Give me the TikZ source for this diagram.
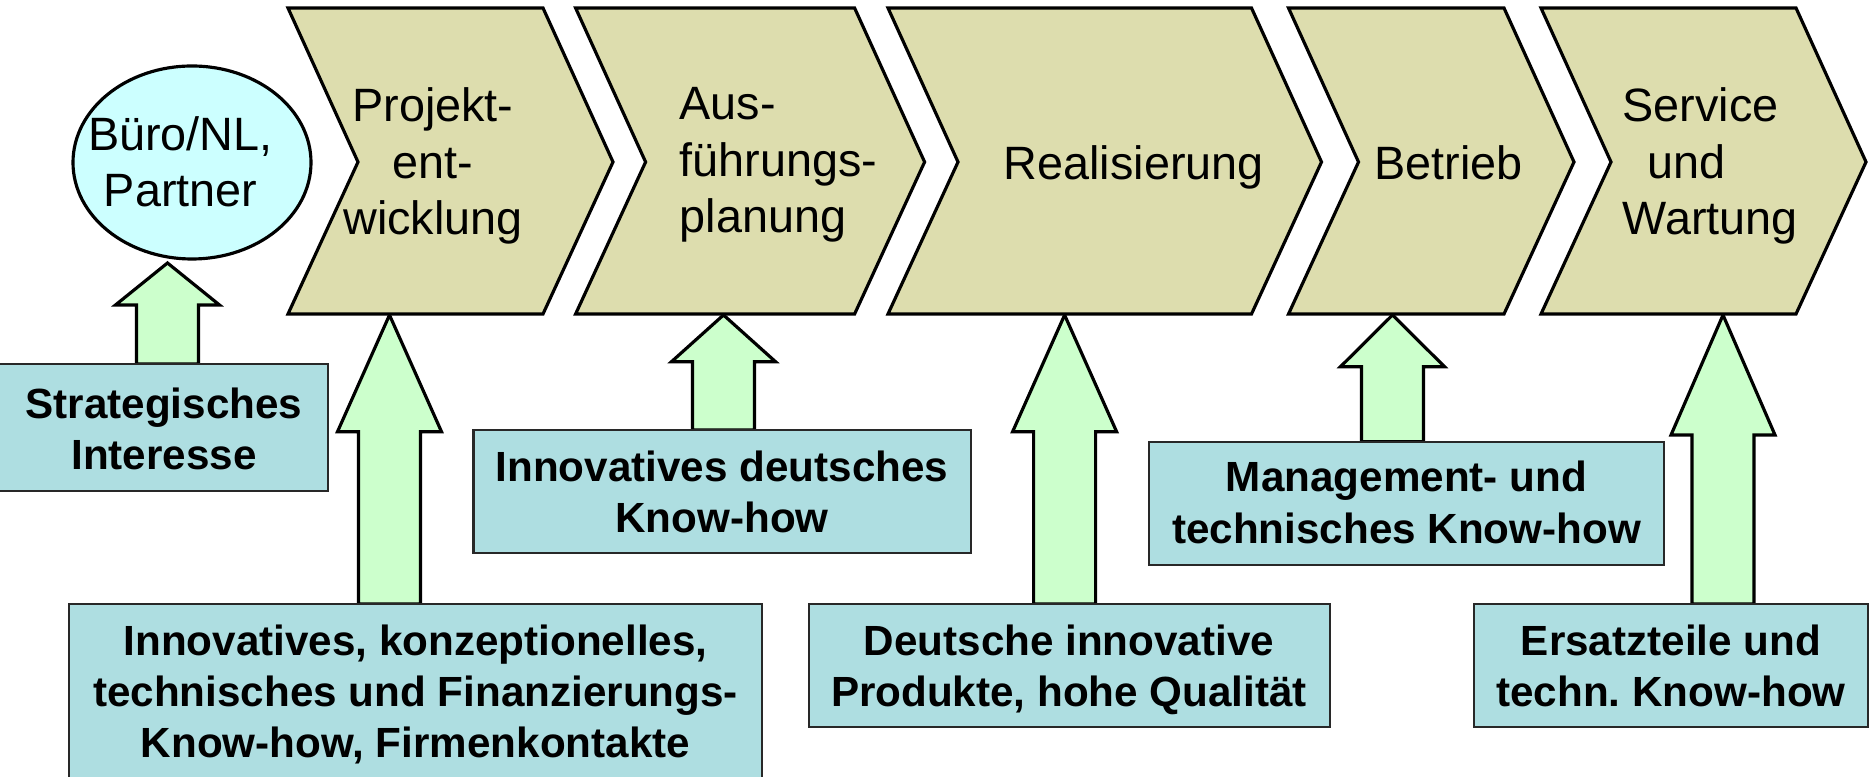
\documentclass[tikz,border=0pt]{standalone}
\usepackage{fontspec}
\setmainfont{Liberation Sans}
\frenchspacing
\definecolor{chevfill}{RGB}{221,221,174}
\definecolor{ovalfill}{RGB}{204,255,255}
\definecolor{boxfill}{RGB}{174,222,225}
\definecolor{arrowfill}{RGB}{204,255,204}
\definecolor{boxline}{RGB}{40,40,40}
% phase chevron: left x, right x of the flat top/bottom edges
\newcommand\phaseshape[2]{%
  \draw[phase] (#1,8) -- (#2,8) -- ({#2+70},162) -- (#2,314) -- (#1,314) -- ({#1+70},162) -- cycle;}
% block arrow pointing up: x, tip y, head base y, bottom y
\newcommand\uparrowshape[4]{%
  \draw[uparr] (#1,#2) -- ({#1+52},#3) -- ({#1+31},#3) -- ({#1+31},#4) -- ({#1-31},#4) -- ({#1-31},#3) -- ({#1-52},#3) -- cycle;}
\begin{document}
\begin{tikzpicture}[x=0.01cm,y=-0.01cm,
  phase/.style={draw=black,fill=chevfill,line width=0.9pt,line join=miter},
  uparr/.style={draw=black,fill=arrowfill,line width=0.9pt,line join=miter},
  infobox/.style={draw=boxline,fill=boxfill,line width=0.6pt},
  oval/.style={draw=black,fill=ovalfill,line width=0.9pt},
  phaselabel/.style={font=\fontsize{13.3}{16.1}\selectfont,inner sep=0pt},
  infolabel/.style={font=\bfseries\fontsize{12}{14.6}\selectfont,align=center,inner sep=0pt,anchor=base}]
\useasboundingbox (0,0) rectangle (1873,777);

% arrows (drawn first, boxes and phases cover their ends)
\uparrowshape{167.5}{263}{305}{364}
\uparrowshape{389.5}{315}{431.7}{604}
\uparrowshape{723.5}{315}{361.7}{430}
\uparrowshape{1064.6}{315}{431.7}{604}
\uparrowshape{1392.5}{315}{366.7}{441.7}
\uparrowshape{1723}{315}{435}{604}

% value chain phases
\phaseshape{288}{543}
\phaseshape{575.6}{854.6}
\phaseshape{888}{1251.5}
\phaseshape{1288.5}{1504}
\phaseshape{1541}{1796}

% labels are placed by the baseline of their last line
\node[phaselabel,align=center,anchor=base] (p1) at (433,235) {Projekt-\\ent-\\wicklung};
\node[phaselabel,align=left,anchor=base west] (p2) at (679,233) {Aus-\\führungs-\\planung};
\node[phaselabel,anchor=base west] (p3) at (1003,180) {Realisierung};
\node[phaselabel,anchor=base west] (p4) at (1374,180) {Betrieb};
\node[phaselabel,align=left,anchor=base west] (p5) at (1622,235) {Service\\\hspace*{7pt}und\\Wartung};

% office / partner
\draw[oval] (192,162.5) ellipse [x radius=119, y radius=96.5];
\node[phaselabel,align=center,anchor=base] (office) at (180.5,207) {Büro/NL,\\Partner};

% contribution boxes
\draw[infobox] (-5,364) rectangle (328,490.7);
\draw[infobox] (69,604) rectangle (762,800);
\draw[infobox] (473.5,430) rectangle (971,553.3);
\draw[infobox] (808.6,604) rectangle (1330,727.3);
\draw[infobox] (1149.4,441.7) rectangle (1663.6,565);
\draw[infobox] (1474.3,604) rectangle (1868,727.3);

\node[infolabel] (t0) at (164,470) {Strategisches\\Interesse};
\node[infolabel] (t1) at (415.5,758) {Innovatives, konzeptionelles,\\technisches und Finanzierungs-\\Know-how, Firmenkontakte};
\node[infolabel] (t2) at (722,533) {Innovatives deutsches\\Know-how};
\node[infolabel] (t3) at (1069,706.7) {Deutsche innovative\\Produkte, hohe Qualität};
\node[infolabel] (t4) at (1406.5,543.3) {Management- und\\technisches Know-how};
\node[infolabel] (t5) at (1671,706.7) {Ersatzteile und\\techn. Know-how};
\end{tikzpicture}
\end{document}
